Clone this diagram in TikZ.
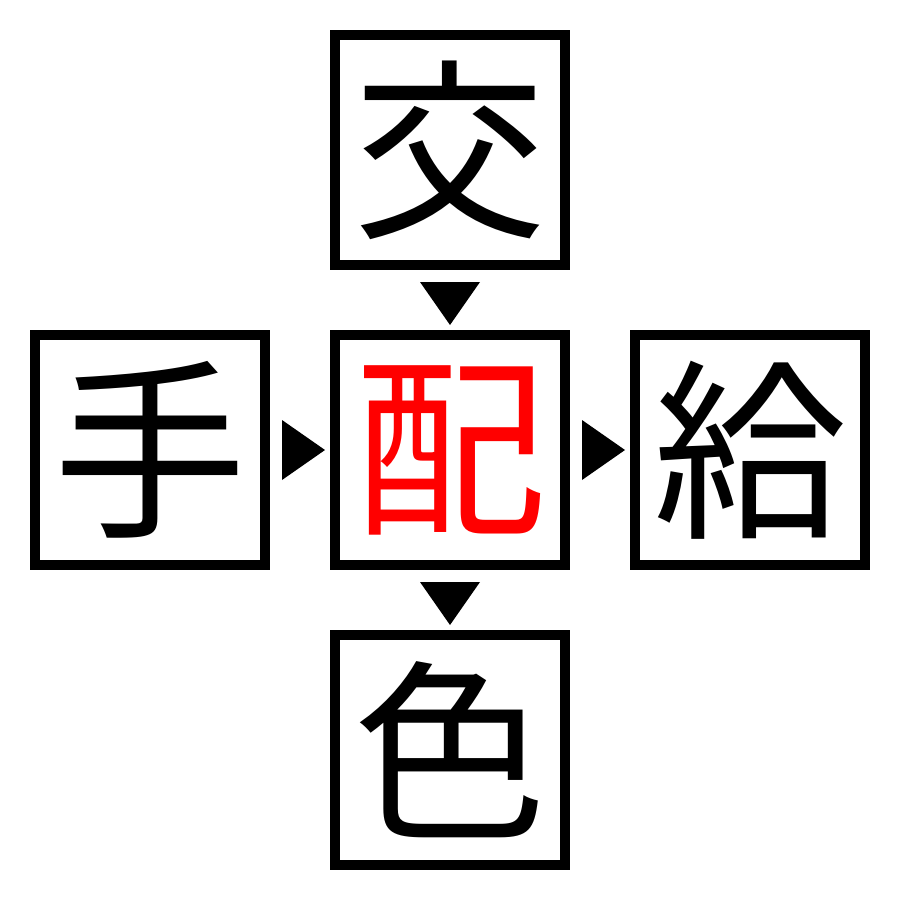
\documentclass[tikz,border=0pt]{standalone}
\usepackage{fontspec}
\newfontfamily\cjk{Noto Sans CJK JP}
\definecolor{kred}{RGB}{255,0,0}
\begin{document}
\begin{tikzpicture}[x=0.1mm,y=-0.1mm]
\tikzset{
  kbox/.style={draw=black,line width=10*0.1mm,fill=white,minimum width=230*0.1mm,minimum height=230*0.1mm,inner sep=0pt,outer sep=0pt,font=\cjk\fontsize{55pt}{55pt}\selectfont},
  tri/.style={fill=black,draw=none}
}
\useasboundingbox[fill=white] (0,0) rectangle (900,900);
\node[kbox] (top) at (450,150) {交};
\node[kbox] (left) at (150,450) {手};
\node[kbox,text=kred] (mid) at (450,450) {配};
\node[kbox] (right) at (750,450) {給};
\node[kbox] (bot) at (450,750) {色};
\fill[tri] (420,282) -- (480,282) -- (450,325) -- cycle;
\fill[tri] (282,420) -- (282,480) -- (325,450) -- cycle;
\fill[tri] (582,420) -- (582,480) -- (625,450) -- cycle;
\fill[tri] (420,582) -- (480,582) -- (450,625) -- cycle;
\end{tikzpicture}
\end{document}
